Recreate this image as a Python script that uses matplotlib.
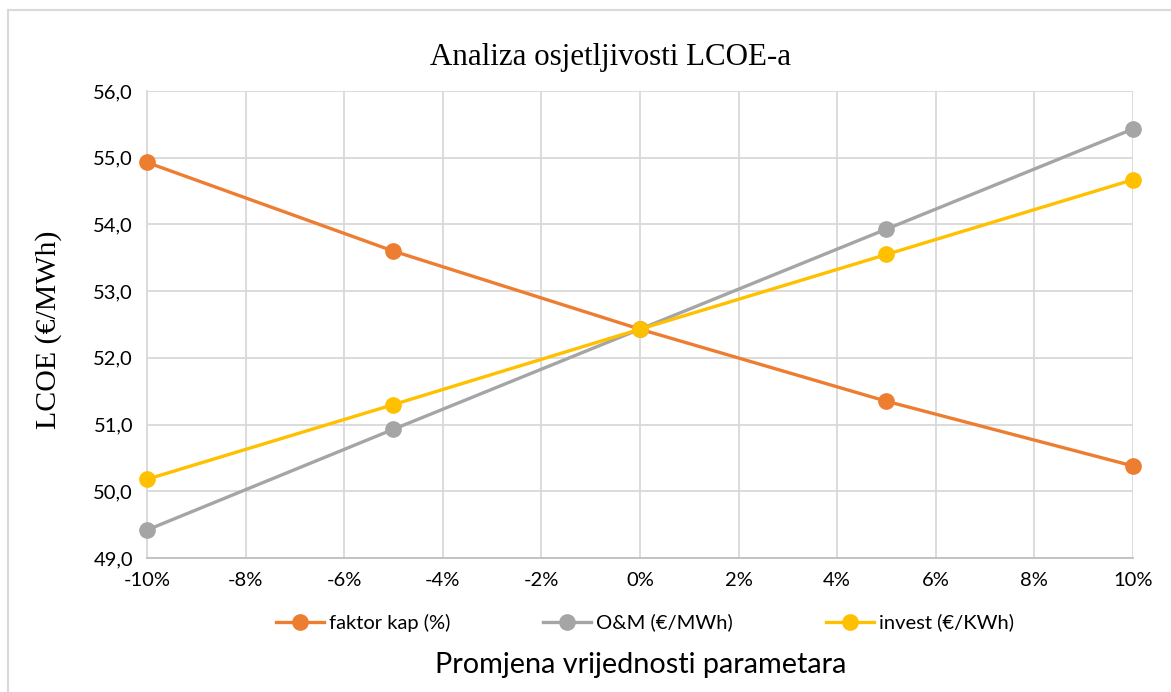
import numpy as np
import matplotlib.pyplot as plt
from matplotlib.ticker import FuncFormatter
from matplotlib.lines import Line2D

# data
change = [-0.10, -0.05, 0.0, 0.05, 0.10]
faktor_kap = [54.93, 53.60, 52.43, 51.35, 50.38]
om = [49.42, 50.93, 52.43, 53.93, 55.43]
invest = [50.18, 51.30, 52.43, 53.55, 54.67]
names = ['faktor kap (%)', 'O&M (€/MWh)', 'invest (€/KWh)']
colors = ['#ED7D31', '#A5A5A5', '#FFC000']

sans = ['Lato', 'DejaVu Sans']
serif = ['Liberation Serif', 'DejaVu Serif']

fig = plt.figure(figsize=(11.71, 6.92), dpi=100)
ax = fig.add_axes([0.1255, 0.1936, 0.842, 0.6749])

for ys, c, n in zip([faktor_kap, om, invest], colors, names):
    ax.plot(change, ys, color=c, lw=2.4, marker='o', ms=11, label=n, zorder=3,
            clip_on=False)

ax.set_xlim(-0.10, 0.10)
ax.set_ylim(49, 56)
ax.set_xticks(np.arange(-0.10, 0.1001, 0.02))
ax.set_yticks(np.arange(49, 56.01, 1))
ax.xaxis.set_major_formatter(FuncFormatter(lambda v, p: f'{round(v*100):d}%'))
ax.yaxis.set_major_formatter(FuncFormatter(lambda v, p: f'{v:.1f}'.replace('.', ',')))
ax.grid(True, color='#D9D9D9', lw=1.3)
ax.set_axisbelow(True)
for s in ['top', 'right']:
    ax.spines[s].set_visible(False)
ax.spines['left'].set_color('#D9D9D9')
ax.spines['left'].set_linewidth(1.3)
ax.spines['bottom'].set_color('#BFBFBF')
ax.spines['bottom'].set_linewidth(1.3)
ax.tick_params(length=0, labelsize=14.5, pad=10)
for lab in ax.get_xticklabels() + ax.get_yticklabels():
    lab.set_family(sans)

fig.text(611/1171, 1 - 65/692, 'Analiza osjetljivosti LCOE-a', family=serif,
         fontsize=22.3, ha='center', va='baseline')
fig.text(49/1171, 1 - 330/692, 'LCOE (€/MWh)', family=serif, fontsize=21.5,
         rotation=90, ha='center', va='center')
fig.text(0.547, 0.02, 'Promjena vrijednosti parametara', family=sans,
         fontsize=20.8, ha='center', va='bottom')

leg = ax.legend(loc='upper center', bbox_to_anchor=(0.505, -0.08), ncol=3,
                frameon=False, prop={'family': sans, 'size': 14.5},
                handlelength=2.4, handletextpad=0.25, columnspacing=4.6)

# outer chart border (left and top visible)
fig.add_artist(Line2D([8/1171, 8/1171], [0, 1 - 10/692], color='#D9D9D9', lw=1.5))
fig.add_artist(Line2D([8/1171, 1], [1 - 10/692, 1 - 10/692], color='#D9D9D9', lw=1.5))

fig.savefig('out.png', dpi=100, facecolor='white')
